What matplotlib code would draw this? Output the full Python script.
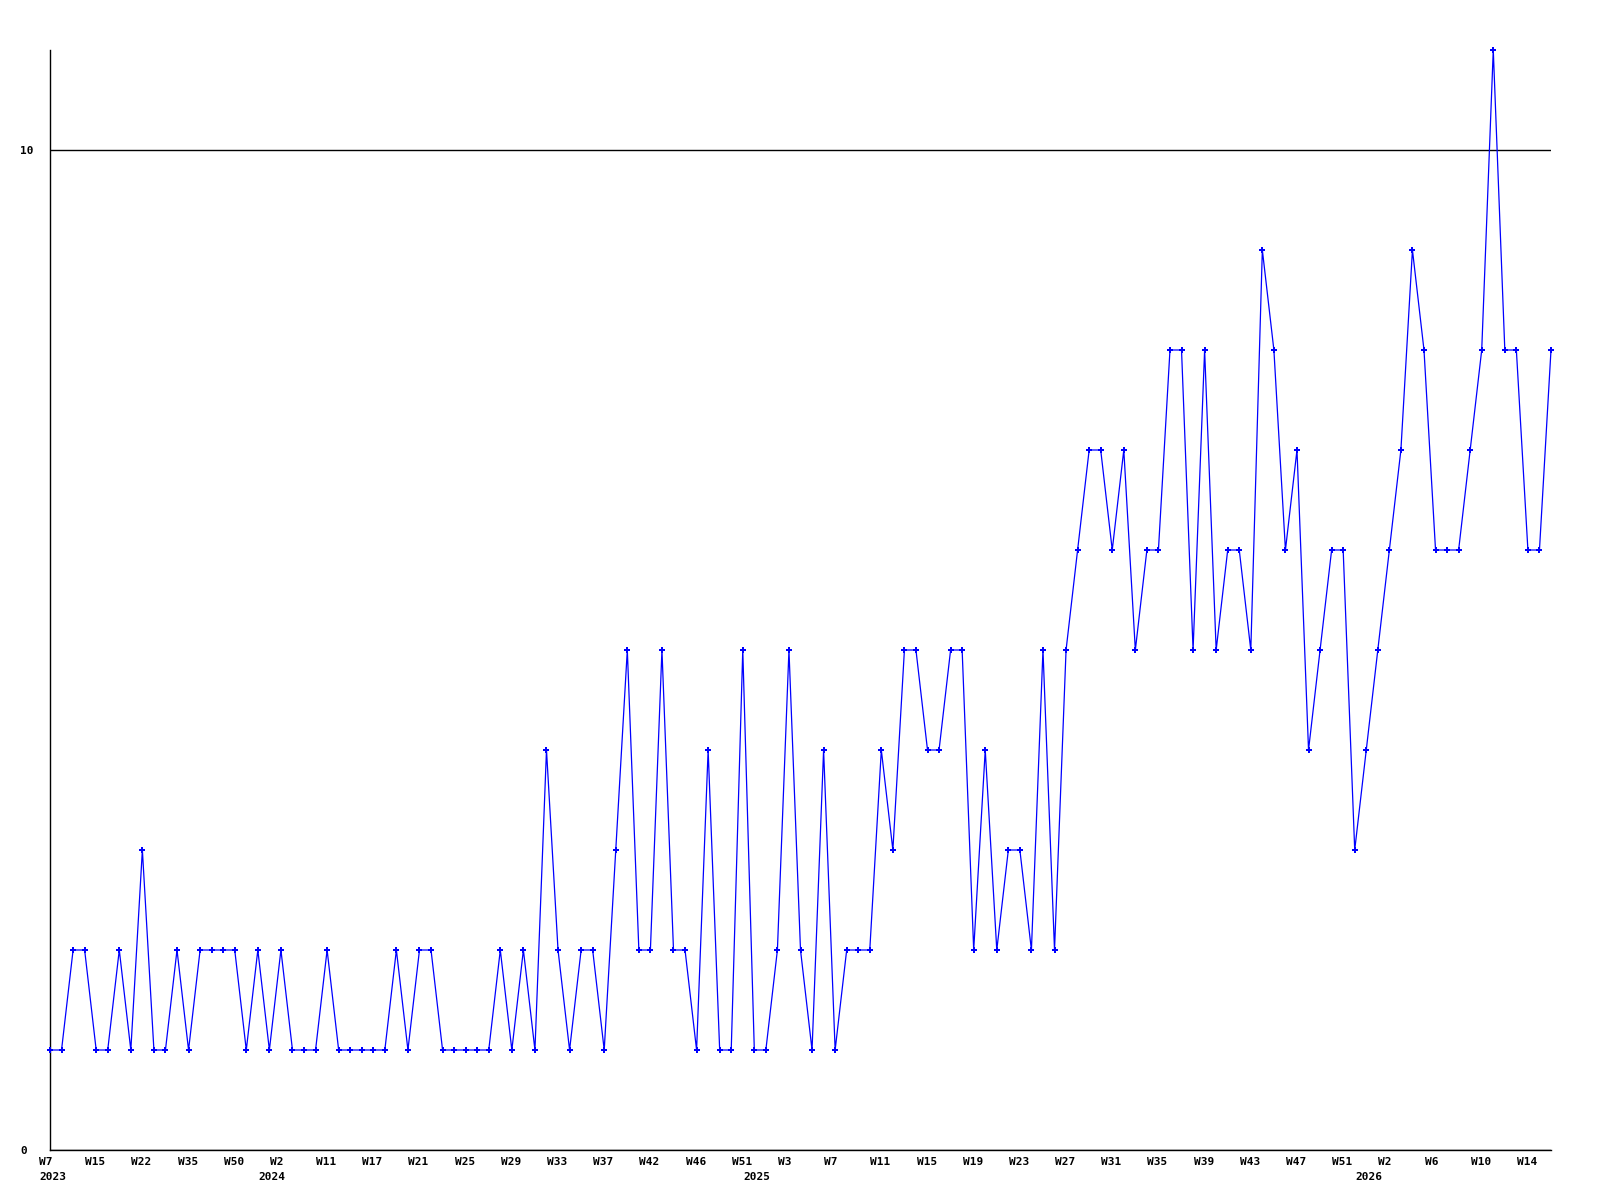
import matplotlib
matplotlib.use("Agg")
import matplotlib.pyplot as plt
import matplotlib.transforms as mtransforms

# weekly counts, one per data point
values = [
    1, 1, 2, 2, 1, 1, 2, 1, 3, 1,
    1, 2, 1, 2, 2, 2, 2, 1, 2, 1,
    2, 1, 1, 1, 2, 1, 1, 1, 1, 1,
    2, 1, 2, 2, 1, 1, 1, 1, 1, 2,
    1, 2, 1, 4, 2, 1, 2, 2, 1, 3,
    5, 2, 2, 5, 2, 2, 1, 4, 1, 1,
    5, 1, 1, 2, 5, 2, 1, 4, 1, 2,
    2, 2, 4, 3, 5, 5, 4, 4, 5, 5,
    2, 4, 2, 3, 3, 2, 5, 2, 5, 6,
    7, 7, 6, 7, 5, 6, 6, 8, 8, 5,
    8, 5, 6, 6, 5, 9, 8, 6, 7, 4,
    5, 6, 6, 3, 4, 5, 6, 7, 9, 8,
    6, 6, 6, 7, 8, 11, 8, 8, 6, 6,
    8,
]

week_labels = [
    "W7", "W15", "W22", "W35", "W50", "W2", "W11", "W17", "W21", "W25",
    "W29", "W33", "W37", "W42", "W46", "W51", "W3", "W7", "W11", "W15",
    "W19", "W23", "W27", "W31", "W35", "W39", "W43", "W47", "W51", "W2",
    "W6", "W10", "W14",
]
label_every = 4

years = ["2023", "2024", "2025", "2026"]
year_start_idx = [0, 19, 61, 114]

y_ticks = [0, 10]

FONT = dict(family="DejaVu Sans Mono", weight="bold", size=8)

fig = plt.figure(figsize=(16, 12), dpi=100)
ax = fig.add_axes([50 / 1600, 50 / 1200, 1501 / 1600, 1100 / 1200])

x = list(range(len(values)))
ax.plot(x, values, color="#0000ff", linewidth=0.9,
        marker="P", markersize=4, markeredgewidth=0, zorder=3, clip_on=False)

ax.set_xlim(0, len(values) - 1)
ax.set_ylim(0, 11)

for side in ("top", "right"):
    ax.spines[side].set_visible(False)
for side in ("left", "bottom"):
    ax.spines[side].set_color("black")
    ax.spines[side].set_linewidth(1.0)

# y axis: only 0 and 10, labels left-aligned at the figure edge
ax.set_yticks(y_ticks)
ax.set_yticklabels([str(t) for t in y_ticks], **FONT)
ax.tick_params(axis="y", length=0, pad=21.6)
for lab in ax.get_yticklabels():
    lab.set_horizontalalignment("left")
ax.grid(axis="y", color="black", linewidth=1.0)
ax.set_axisbelow(True)

# x axis: week labels every 4th point
ticks = list(range(0, len(values), label_every))[:len(week_labels)]
ax.set_xticks(ticks)
ax.set_xticklabels(week_labels, **FONT)
ax.tick_params(axis="x", length=0, pad=5.3)
shift = mtransforms.ScaledTranslation(-11 / 100, 0, fig.dpi_scale_trans)
for lab in ax.get_xticklabels():
    lab.set_horizontalalignment("left")
    lab.set_transform(lab.get_transform() + shift)

# year labels on a second row
for yr, idx in zip(years, year_start_idx):
    ax.annotate(yr, xy=(idx, 0), xycoords=("data", "axes fraction"),
                xytext=(-11, -22), textcoords="offset pixels",
                ha="left", va="top", **FONT)

fig.savefig("out.png", dpi=100, facecolor="white")
